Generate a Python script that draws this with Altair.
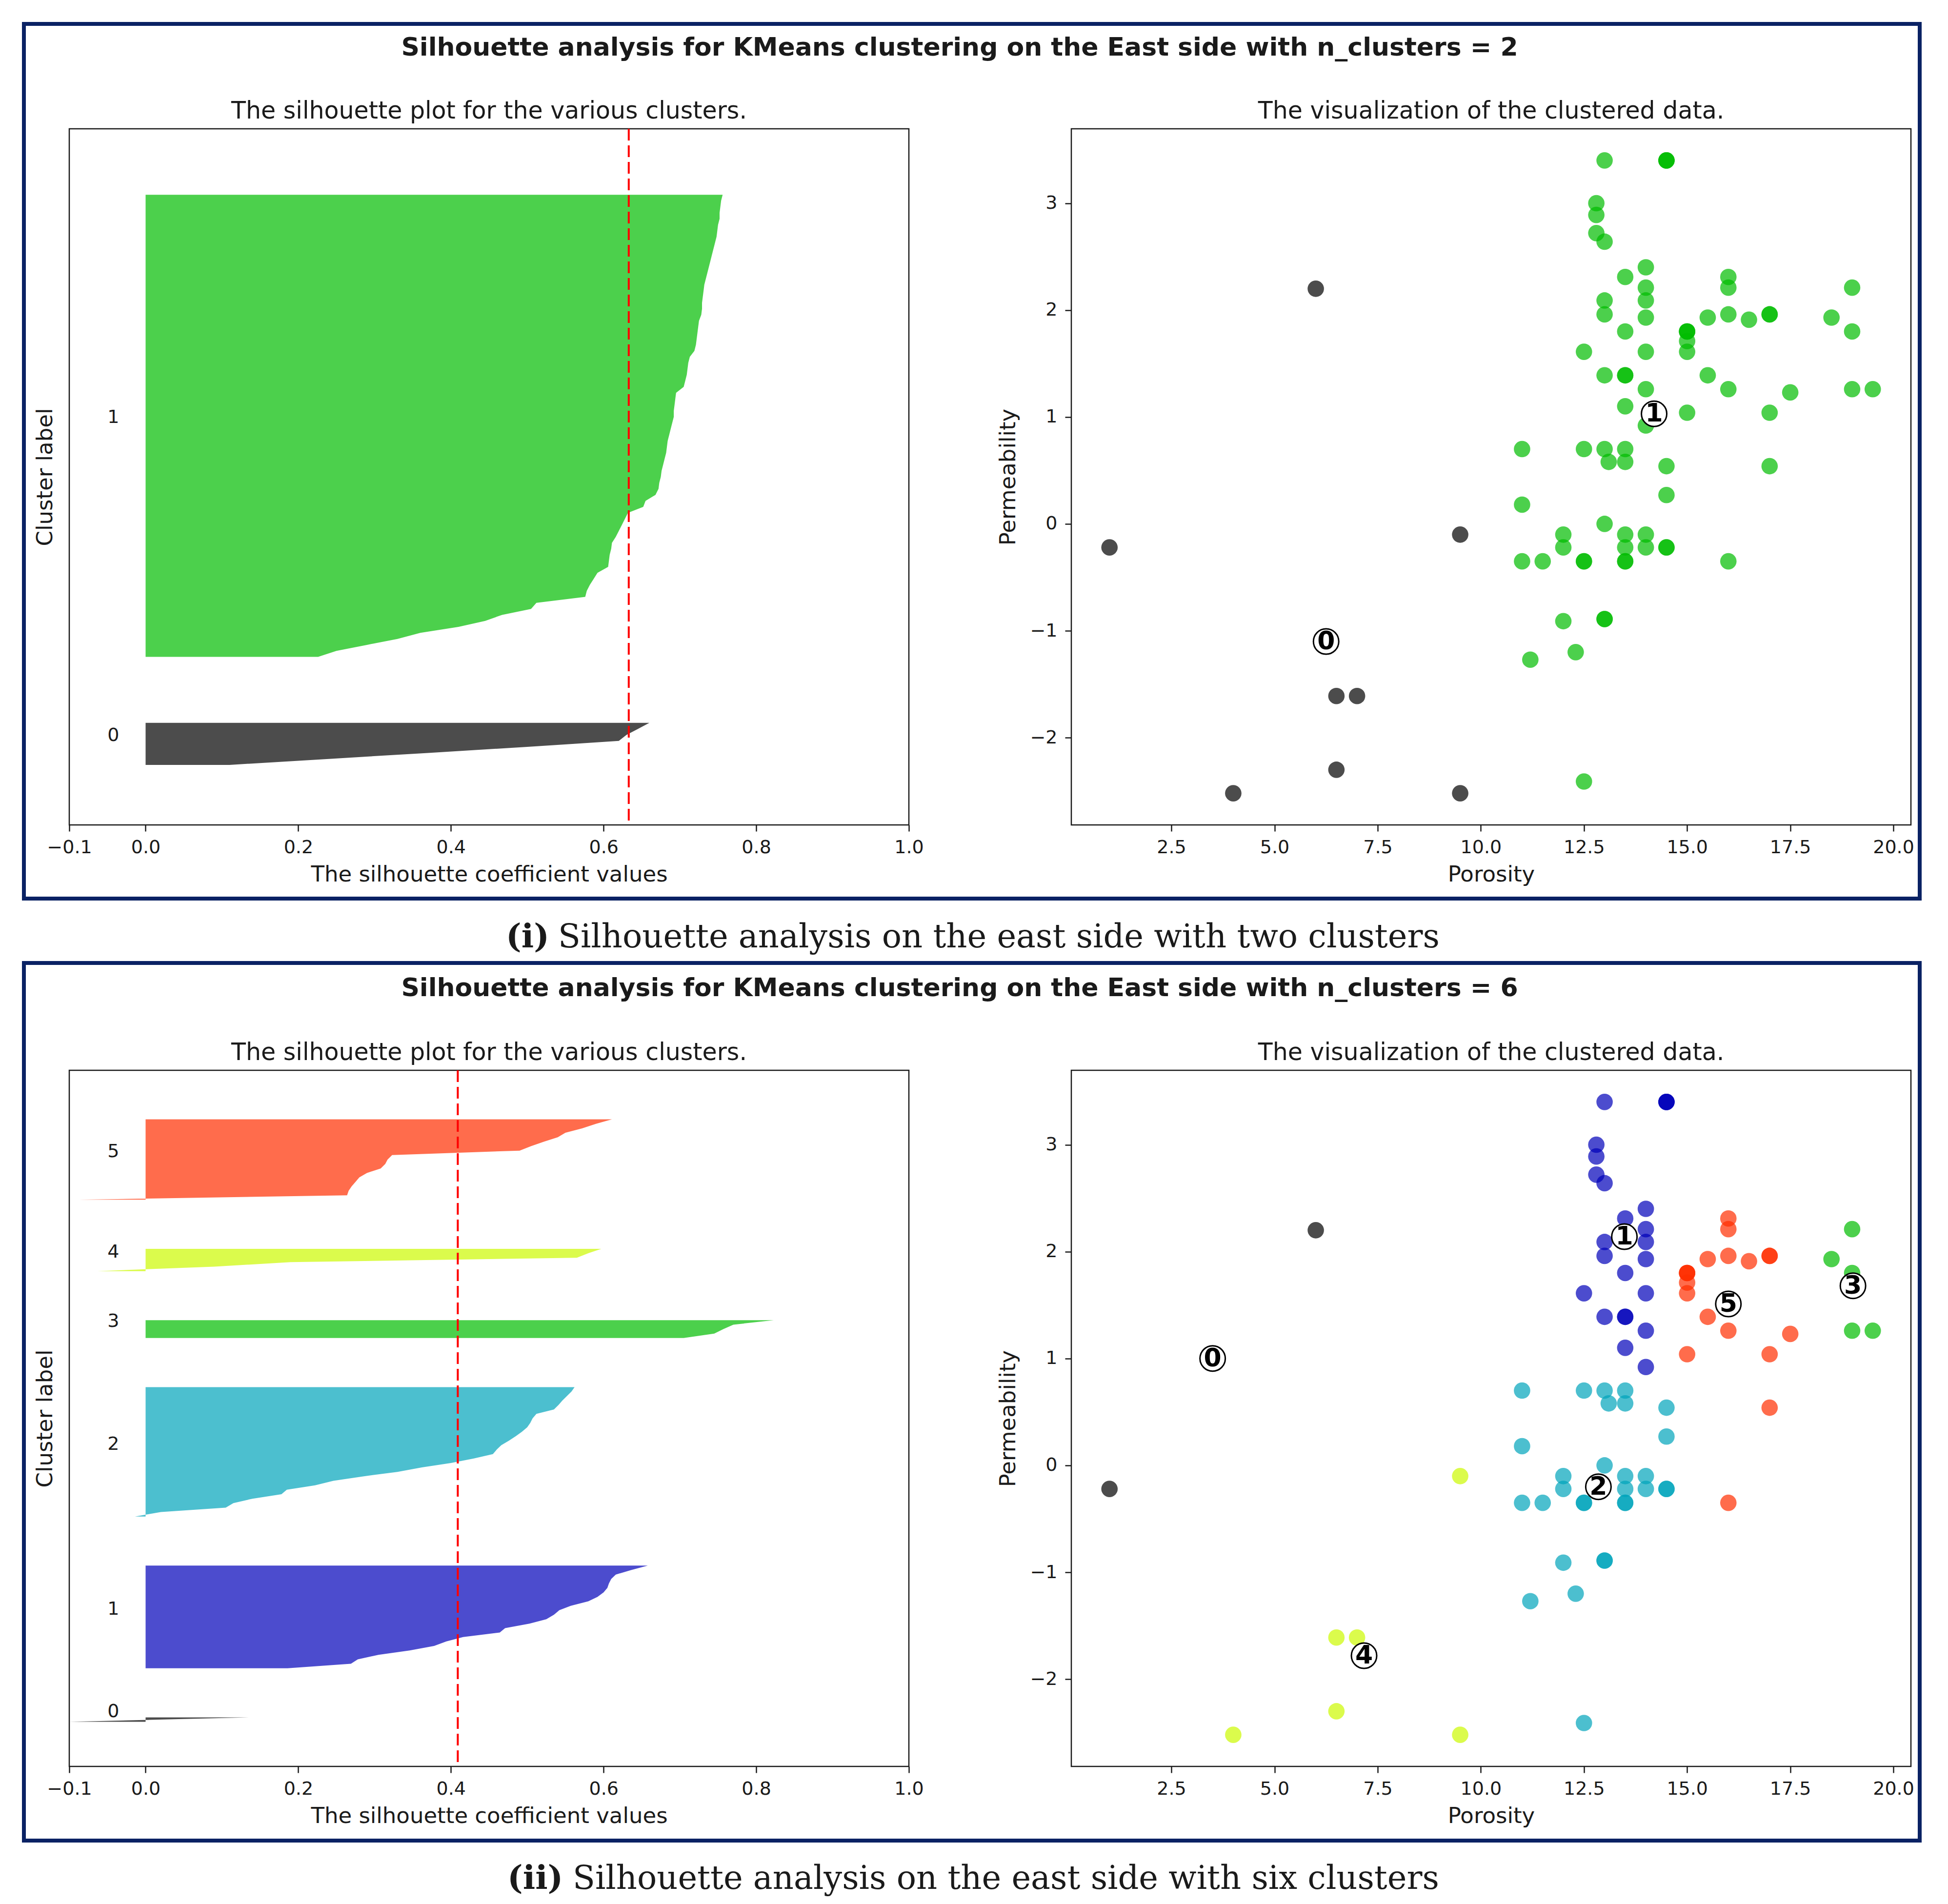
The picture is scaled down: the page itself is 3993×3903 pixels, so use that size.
import altair as alt
import pandas as pd

# ---------------------------------------------------------------- data
# scatter points (porosity, permeability) and their cluster labels
porosity = [
    1.0, 6.0,
    9.5, 6.5, 7.0, 6.5, 4.0, 9.5,
    13.0, 14.5, 14.5, 14.5, 12.8, 12.8, 12.8, 13.0, 14.0, 13.5, 14.0, 14.0,
    13.0, 13.0, 14.0, 13.5, 12.5, 14.0, 13.0, 13.5, 13.5, 14.0, 13.5, 14.0,
    15.0, 15.0, 15.0, 15.0, 15.0, 15.5, 16.0, 16.0, 16.0, 16.5, 17.0, 17.0,
    15.5, 16.0, 15.0, 17.0, 17.5, 17.0, 16.0,
    18.5, 19.0, 19.0, 19.0, 19.5,
    11.0, 12.5, 13.0, 13.5, 13.1, 13.5, 14.5, 14.5, 11.0, 13.0,
    12.0, 12.0, 13.5, 13.5, 14.0, 14.0, 14.5, 14.5, 11.0, 11.5,
    12.5, 12.5, 13.5, 13.5, 12.0, 13.0, 13.0, 11.2, 12.3, 12.5,
]
permeability = [
    -0.22, 2.20,
    -0.10, -1.61, -1.61, -2.30, -2.52, -2.52,
    3.40, 3.40, 3.40, 3.40, 3.00, 2.89, 2.72, 2.64, 2.40, 2.31, 2.21, 2.09,
    2.09, 1.96, 1.93, 1.80, 1.61, 1.61, 1.39, 1.39, 1.39, 1.26, 1.10, 0.92,
    1.80, 1.80, 1.80, 1.71, 1.61, 1.93, 2.31, 2.21, 1.96, 1.91, 1.96, 1.96,
    1.39, 1.26, 1.04, 1.04, 1.23, 0.54, -0.35,
    1.93, 2.21, 1.80, 1.26, 1.26,
    0.70, 0.70, 0.70, 0.70, 0.58, 0.58, 0.54, 0.27, 0.18, 0.00,
    -0.10, -0.22, -0.10, -0.22, -0.10, -0.22, -0.22, -0.22, -0.35, -0.35,
    -0.35, -0.35, -0.35, -0.35, -0.91, -0.89, -0.89, -1.27, -1.20, -2.41,
]
label_k2 = [
    0, 0,
    0, 0, 0, 0, 0, 0,
    1, 1, 1, 1, 1, 1, 1, 1, 1, 1, 1, 1,
    1, 1, 1, 1, 1, 1, 1, 1, 1, 1, 1, 1,
    1, 1, 1, 1, 1, 1, 1, 1, 1, 1, 1, 1,
    1, 1, 1, 1, 1, 1, 1,
    1, 1, 1, 1, 1,
    1, 1, 1, 1, 1, 1, 1, 1, 1, 1,
    1, 1, 1, 1, 1, 1, 1, 1, 1, 1,
    1, 1, 1, 1, 1, 1, 1, 1, 1, 1,
]
label_k6 = [
    0, 0,
    4, 4, 4, 4, 4, 4,
    1, 1, 1, 1, 1, 1, 1, 1, 1, 1, 1, 1,
    1, 1, 1, 1, 1, 1, 1, 1, 1, 1, 1, 1,
    5, 5, 5, 5, 5, 5, 5, 5, 5, 5, 5, 5,
    5, 5, 5, 5, 5, 5, 5,
    3, 3, 3, 3, 3,
    2, 2, 2, 2, 2, 2, 2, 2, 2, 2,
    2, 2, 2, 2, 2, 2, 2, 2, 2, 2,
    2, 2, 2, 2, 2, 2, 2, 2, 2, 2,
]

# cluster centres
centers_k2_x = [6.25, 14.2]
centers_k2_y = [-1.10, 1.03]
centers_k6_x = [3.5, 13.48, 12.85, 19.02, 7.17, 16.0]
centers_k6_y = [1.0, 2.14, -0.20, 1.68, -1.78, 1.51]

# silhouette values per cluster
sil_k2_c0 = [0.11, 0.24, 0.37, 0.50, 0.62, 0.63, 0.645, 0.66]
sil_k2_c1 = [
    0.226, 0.250, 0.290, 0.330, 0.360, 0.410, 0.445, 0.467, 0.505, 0.512,
    0.576, 0.578, 0.582, 0.587, 0.592, 0.606, 0.607, 0.608, 0.610, 0.611,
    0.616, 0.620, 0.624, 0.628, 0.632, 0.652, 0.655, 0.668, 0.672, 0.673,
    0.675, 0.676, 0.678, 0.680, 0.682, 0.683, 0.684, 0.686, 0.688, 0.690,
    0.692, 0.692, 0.693, 0.694, 0.695, 0.705, 0.707, 0.709, 0.710, 0.711,
    0.713, 0.719, 0.721, 0.722, 0.723, 0.724, 0.725, 0.728, 0.729, 0.729,
    0.730, 0.731, 0.732, 0.734, 0.736, 0.738, 0.740, 0.742, 0.744, 0.746,
    0.748, 0.749, 0.750, 0.752, 0.752, 0.753, 0.754, 0.756,
]
sil_k6_c0 = [-0.10, 0.14]
sil_k6_c1 = [0.186, 0.269, 0.278, 0.305, 0.346, 0.378, 0.394, 0.416, 0.464, 0.471,
             0.503, 0.525, 0.535, 0.542, 0.557, 0.580, 0.592, 0.600, 0.605, 0.607,
             0.610, 0.616, 0.636, 0.658]
sil_k6_c2 = [-0.014, 0.020, 0.105, 0.115, 0.140, 0.178, 0.185, 0.222, 0.246, 0.285,
             0.330, 0.362, 0.400, 0.430, 0.455, 0.460, 0.466, 0.476, 0.485, 0.493,
             0.500, 0.504, 0.507, 0.512, 0.535, 0.541, 0.546, 0.552, 0.558, 0.562]
sil_k6_c3 = [0.705, 0.745, 0.757, 0.770, 0.823]
sil_k6_c4 = [-0.063, 0.09, 0.19, 0.565, 0.58, 0.597]
sil_k6_c5 = [-0.087, 0.264, 0.266, 0.270, 0.275, 0.280, 0.290, 0.308, 0.314, 0.317,
             0.323, 0.490, 0.505, 0.522, 0.540, 0.550, 0.572, 0.590, 0.611]

avg_k2 = 0.633
avg_k6 = 0.409

sil_ticks = [-0.1, 0.0, 0.2, 0.4, 0.6, 0.8, 1.0]
por_ticks = [2.5, 5.0, 7.5, 10.0, 12.5, 15.0, 17.5, 20.0]
perm_ticks = [-2, -1, 0, 1, 2, 3]

COLORS_K2 = ["#000000", "#00bc00"]
COLORS_K6 = ["#000000", "#0000b9", "#00a4bb", "#00bc00", "#ccf900", "#ff2d00"]

SUPTITLE_K2 = "Silhouette analysis for KMeans clustering on the East side with n_clusters = 2"
SUPTITLE_K6 = "Silhouette analysis for KMeans clustering on the East side with n_clusters = 6"
SUB_LEFT = "The silhouette plot for the various clusters."
SUB_RIGHT = "The visualization of the clustered data."

# ---------------------------------------------------------------- style
NAVY = "#0a2264"
INK = "#1a1a1a"
SANS = "DejaVu Sans"
SERIF = "DejaVu Serif"
PW, PH = 1721, 1427
ONE = [{"k": 0}]


def px_rect(x0, x1, y0, y1):
    return alt.Chart(alt.Data(values=ONE)).mark_rect(color=NAVY).encode(
        x=alt.value(x0), x2=alt.value(x1), y=alt.value(y0), y2=alt.value(y1))


def px_text(txt, x, y, size, weight="normal", font=SANS, align="center"):
    return alt.Chart(alt.Data(values=ONE)).mark_text(
        text=txt, font=font, fontSize=size, fontWeight=weight, align=align,
        baseline="alphabetic", color=INK).encode(x=alt.value(x), y=alt.value(y))


def frame_layers(top, bottom, t=8):
    left, right = -97, 3797
    return [px_rect(left, right, top, top + t), px_rect(left, right, bottom - t, bottom),
            px_rect(left, left + t, top, bottom), px_rect(right - t, right, top, bottom)]


def x_axis(values, title):
    return alt.Axis(values=values, format=".1f", title=title, labelFlush=False,
                    labelOverlap=False, labelBaseline="alphabetic", labelPadding=44,
                    tickSize=13, titleY=115, titleBaseline="alphabetic")


def sil_frames(clusters):
    rows, labs = [], []
    y_lower = 10
    for i, vals in enumerate(clusters):
        vals = sorted(vals)
        for j, v in enumerate(vals):
            rows.append({"cluster": str(i), "y": y_lower + j, "s": v})
        labs.append({"cluster": str(i), "y": y_lower + 0.5 * len(vals)})
        y_lower += len(vals) + 10
    return pd.DataFrame(rows), pd.DataFrame(labs)


def silhouette_panel(clusters, colors, avg, suptitle, tag, caption, top, bottom,
                     sup_y, tag_x, cap_x):
    df, lab = sil_frames(clusters)
    ytop = len(df) + (len(clusters) + 1) * 10
    xs = alt.Scale(domain=[-0.1, 1.0], nice=False, zero=False)
    ys = alt.Scale(domain=[0, ytop], nice=False, zero=False)
    cs = alt.Scale(domain=[str(i) for i in range(len(clusters))], range=colors)
    area = alt.Chart(df).mark_area(orient="horizontal", opacity=0.7).encode(
        y=alt.Y("y:Q", scale=ys, axis=alt.Axis(labels=False, ticks=False, title="Cluster label",
                                               titleX=-36, titleY=PH / 2,
                                               titleBaseline="alphabetic")),
        x=alt.X("s:Q", scale=xs, stack=False,
                axis=x_axis(sil_ticks, "The silhouette coefficient values")),
        x2=alt.datum(0),
        color=alt.Color("cluster:N", scale=cs, legend=None),
    )
    txt = alt.Chart(lab).mark_text(align="left", baseline="alphabetic", font=SANS,
                                   fontSize=38, color=INK).encode(
        x=alt.datum(-0.05), y=alt.Y("y:Q", title="Cluster label"), text="cluster:N")
    rule = alt.Chart(alt.Data(values=ONE)).mark_rule(
        color="red", strokeDash=[24, 10], strokeWidth=4).encode(x=alt.datum(avg))
    deco = frame_layers(top, bottom) + [
        px_text(suptitle, 1825, sup_y, 52, weight="bold"),
        px_text(SUB_LEFT, PW / 2, -21, 49),
        px_text(tag, tag_x, 1678, 67, weight="bold", font=SERIF, align="left"),
        px_text(caption, cap_x, 1678, 67, font=SERIF, align="left"),
    ]
    return alt.layer(*deco, area, txt, rule).properties(width=PW, height=PH)


def scatter_panel(labels, colors, cx, cy):
    df = pd.DataFrame({"porosity": porosity, "permeability": permeability,
                       "label": [str(v) for v in labels]})
    cdf = pd.DataFrame({"cx": cx, "cy": cy, "label": [str(i) for i in range(len(cx))]})
    xs = alt.Scale(domain=[0.075, 20.425], nice=False, zero=False)
    ys = alt.Scale(domain=[-2.816, 3.696], nice=False, zero=False)
    cs = alt.Scale(domain=[str(i) for i in range(len(colors))], range=colors)
    pts = alt.Chart(df).mark_circle(size=1130, opacity=0.7).encode(
        x=alt.X("porosity:Q", scale=xs, axis=x_axis(por_ticks, "Porosity")),
        y=alt.Y("permeability:Q", scale=ys,
                axis=alt.Axis(values=perm_ticks, format="d", title="Permeability",
                              labelPadding=16, tickSize=13, titleX=-116, titleY=PH / 2,
                              titleBaseline="alphabetic", labelOverlap=False,
                              labelFlush=False)),
        color=alt.Color("label:N", scale=cs, legend=None),
    )
    ring = alt.Chart(cdf).mark_circle(size=2700, fill="white", opacity=1, stroke="black",
                                      strokeWidth=3).encode(
        x=alt.X("cx:Q", title="Porosity"), y=alt.Y("cy:Q", title="Permeability"))
    num = alt.Chart(cdf).mark_text(font=SANS, fontSize=52, fontWeight="bold", color="black",
                                   baseline="middle", align="center").encode(
        x=alt.X("cx:Q", title="Porosity"), y=alt.Y("cy:Q", title="Permeability"),
        text="label:N")
    return alt.layer(pts, ring, num, px_text(SUB_RIGHT, PW / 2, -21, 49)).properties(
        width=PW, height=PH)


L1 = silhouette_panel([sil_k2_c0, sil_k2_c1], COLORS_K2, avg_k2, SUPTITLE_K2, "(i)",
                      "Silhouette analysis on the east side with two clusters",
                      -219, 1582, -150, 895, 1002)
R1 = scatter_panel(label_k2, COLORS_K2, centers_k2_x, centers_k2_y)
L2 = silhouette_panel([sil_k6_c0, sil_k6_c1, sil_k6_c2, sil_k6_c3, sil_k6_c4, sil_k6_c5],
                      COLORS_K6, avg_k6, SUPTITLE_K6, "(ii)",
                      "Silhouette analysis on the east side with six clusters",
                      -224, 1583, -152, 898, 1032)
R2 = scatter_panel(label_k6, COLORS_K6, centers_k6_x, centers_k6_y)

chart = alt.concat(L1, R1, L2, R2, columns=2, spacing={"row": 503, "column": 333},
                   bounds="flush").resolve_scale(color="independent").properties(
    padding={"left": 35, "top": 35, "right": 20, "bottom": 5}, background="white"
).configure_view(stroke=INK, strokeWidth=2.5).configure_axis(
    labelFont=SANS, labelFontSize=38, labelColor=INK, titleFont=SANS, titleFontSize=45,
    titleFontWeight="normal", titleColor=INK, tickColor=INK, tickWidth=2.5,
    domain=False, grid=False)

chart.save("out.html", embed_options={"renderer": "svg", "actions": False})
